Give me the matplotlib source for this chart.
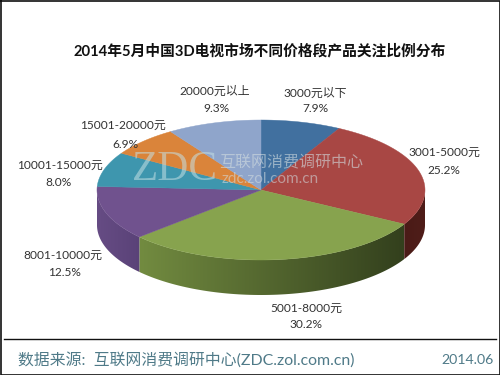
import numpy as np
import matplotlib
matplotlib.use('Agg')
import matplotlib.pyplot as plt
from matplotlib.colors import to_rgb
from matplotlib.patches import Polygon

plt.rcParams['font.family'] = ['Lato', 'Noto Sans CJK SC', 'DejaVu Sans']

title = '2014年5月中国3D电视市场不同价格段产品关注比例分布'
categories = ['3000元以下', '3001-5000元', '5001-8000元', '8001-10000元',
              '10001-15000元', '15001-20000元', '20000元以上']
values = [7.9, 25.2, 30.2, 12.5, 8.0, 6.9, 9.3]
top_colors = ['#41709f', '#a84744', '#87a34e', '#70528e', '#3e96ae', '#da843a', '#8fa5cb']
# side colour at the left and right end of the visible part of each slice
side_left = [None, '#4a1b17', '#728b40', '#664c84', None, None, None]
side_right = [None, '#4f1d19', '#33401d', '#5a4278', None, None, None]
label_xy = [(315, 93), (444, 152), (306, 308), (63, 255), (60, 165), (123, 125), (215, 91)]
pct_xy = [(315, 109), (444, 170), (306, 325), (65, 272), (58, 182), (125, 144), (216, 109)]

CX, CY, RX, RY, DEPTH = 261, 190, 164, 70, 35


def ell(deg):
    # degrees clockwise from the top of the pie
    a = np.radians(deg)
    return CX + RX * np.sin(a), CY - RY * np.cos(a)


fig = plt.figure(figsize=(5, 3.75), dpi=100)
ax = fig.add_axes([0, 0, 1, 1])

edges = np.concatenate([[0], np.cumsum(values)]) / sum(values) * 360

# side wall: horizontal gradient clipped to the rim of each slice
for i, (a0, a1) in enumerate(zip(edges[:-1], edges[1:])):
    lo, hi = max(a0, 90), min(a1, 270)
    if lo >= hi or side_left[i] is None:
        continue
    t = np.linspace(lo, hi, 80)
    x, y = ell(t)
    poly = Polygon(np.c_[np.r_[x, x[::-1]], np.r_[y, y[::-1] + DEPTH]], closed=True,
                   transform=ax.transData, fc='none', ec='none')
    ax.add_patch(poly)
    c0, c1 = np.array(to_rgb(side_left[i])), np.array(to_rgb(side_right[i]))
    grad = np.linspace(0, 1, 128)[None, :, None] * (c1 - c0) + c0
    im = ax.imshow(grad, extent=(x.min(), x.max(), y.max() + DEPTH, y.min()),
                   aspect='auto', interpolation='bilinear', zorder=2)
    im.set_clip_path(poly)

# top face
for a0, a1, col in zip(edges[:-1], edges[1:], top_colors):
    t = np.linspace(a0, a1, 80)
    x, y = ell(t)
    ax.fill(np.r_[CX, x], np.r_[CY, y], color=col, lw=0.3, zorder=3)

ax.set_xlim(0, 500)
ax.set_ylim(375, 0)
ax.axis('off')

# watermark
ax.text(175, 170, 'ZDC', fontsize=31, family=['Liberation Serif'], color='#c4e0e4', alpha=0.55,
        ha='center', va='center', zorder=4)
ax.text(291, 163, '互联网消费调研中心', fontsize=11.5, color='#d3dde0', alpha=0.6,
        ha='center', va='center', zorder=4)
ax.text(222, 179, 'zdc.zol.com.cn', fontsize=11, color='#d3dde0', alpha=0.55,
        ha='left', va='center', zorder=4)

ax.text(260, 51, title, fontsize=10.6, fontweight='bold', color='#111111',
        ha='center', va='center', zorder=5)

for cat, val, lxy, pxy in zip(categories, values, label_xy, pct_xy):
    ax.text(lxy[0], lxy[1], cat, fontsize=8.6, color='#333333', ha='center', va='center', zorder=5)
    ax.text(pxy[0], pxy[1], f'{val:.1f}%', fontsize=8.6, color='#333333', ha='center', va='center', zorder=5)

# footer
ax.plot([4, 496], [338.5, 338.5], color='#111111', lw=1, zorder=5)
ax.text(18, 360, '数据来源:  互联网消费调研中心(ZDC.zol.com.cn)', fontsize=11.4, color='#4f7a88',
        ha='left', va='center', zorder=5)
ax.text(494, 360, '2014.06', fontsize=10.2, color='#4f7a88', ha='right', va='center', zorder=5)

# image frame
ax.plot([0.5, 499.5, 499.5, 0.5, 0.5], [0.5, 0.5, 374.5, 374.5, 0.5], color='#111111', lw=1.2, zorder=6)

fig.savefig('out.png', dpi=100, facecolor='white')
